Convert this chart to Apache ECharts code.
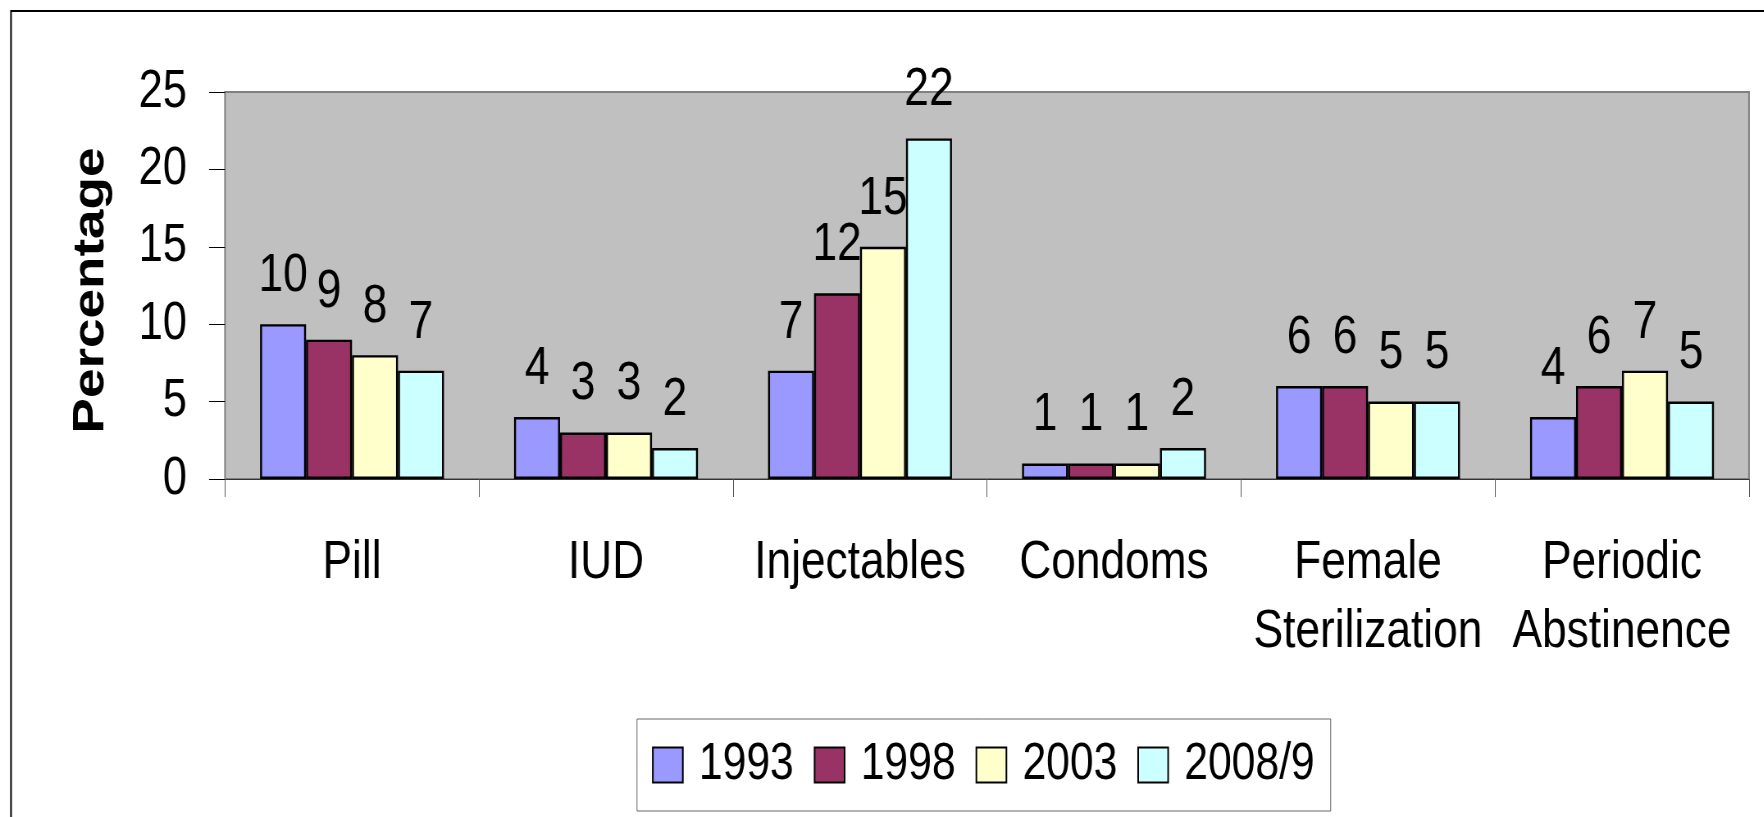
<!DOCTYPE html>
<html>
<head>
<meta charset="utf-8">
<script src="https://cdn.jsdelivr.net/npm/echarts@6/dist/echarts.min.js"></script>
<style>
	html, body {margin: 0; padding: 0; background: #fff; overflow: hidden;}
	/* the original uses a narrow font: draw wider and squeeze horizontally */
	#chart {width: 2151px; height: 817px; transform: scaleX(0.82); transform-origin: 0 0;}
</style>
</head>
<body>
<div id="chart"></div>
<script>
var categories = ['Pill', 'IUD', 'Injectables', 'Condoms', 'Female\nSterilization', 'Periodic\nAbstinence'];
var years = ['1993', '1998', '2003', '2008/9'];
var values1993 = [10, 4, 7, 1, 6, 4];
var values1998 = [9, 3, 12, 1, 6, 6];
var values2003 = [8, 3, 15, 1, 5, 7];
var values2008 = [7, 2, 22, 2, 5, 5];
var colors = ['#9999FF', '#993366', '#FFFFCC', '#CCFFFF'];

var sx = 0.82; // horizontal squeeze, screen px = chart px * sx
var font = '"Liberation Sans", Arial, sans-serif';

function px(v) {
	return v / sx;
}

function barSeries(name, data, color) {
	return {
		name: name,
		type: 'bar',
		data: data,
		barGap: '0%',
		barCategoryGap: '27.6%',
		itemStyle: {
			color: color,
			borderColor: '#000',
			borderWidth: 2.4
		},
		label: {
			show: true,
			position: 'top',
			distance: 21,
			color: '#000',
			fontFamily: font,
			fontSize: 54
		},
		emphasis: {disabled: true}
	};
}

var myChart = echarts.init(document.getElementById('chart'));
var option = {
	animation: false,
	backgroundColor: '#fff',
	graphic: [{
		type: 'rect',
		shape: {x: px(11), y: 11, width: 2400, height: 900},
		style: {fill: 'none', stroke: '#000', lineWidth: 2}
	}],
	grid: {
		left: px(225),
		right: 2151 - px(1749),
		top: 92,
		bottom: 338,
		show: true,
		backgroundColor: '#C0C0C0',
		borderColor: '#808080',
		borderWidth: 2
	},
	legend: {
		data: years,
		left: px(637),
		top: 719,
		padding: [20, px(16), 20, px(15)],
		itemWidth: px(30),
		itemHeight: 35,
		itemGap: px(20),
		icon: 'rect',
		borderColor: '#666',
		borderWidth: 1,
		textStyle: {
			color: '#000',
			fontFamily: font,
			fontSize: 52,
			padding: [0, 0, 0, px(12)]
		}
	},
	xAxis: {
		type: 'category',
		data: categories,
		axisLine: {lineStyle: {color: '#333', width: 1}},
		axisTick: {show: true, length: 18, lineStyle: {color: '#555'}},
		axisLabel: {
			color: '#000',
			fontFamily: font,
			fontSize: 54,
			lineHeight: 69,
			margin: 50,
			interval: 0
		}
	},
	yAxis: {
		type: 'value',
		min: 0,
		max: 25,
		interval: 5,
		name: 'Percentage',
		nameLocation: 'middle',
		nameGap: 136,
		nameTextStyle: {
			color: '#000',
			fontFamily: font,
			fontWeight: 'bold',
			fontSize: 53,
			padding: [0, 10, 0, 0]
		},
		axisLine: {show: false},
		axisTick: {show: true, length: px(16), lineStyle: {color: '#000'}},
		splitLine: {show: false},
		axisLabel: {
			color: '#000',
			fontFamily: font,
			fontSize: 53,
			margin: px(38)
		}
	},
	series: [
		barSeries(years[0], values1993, colors[0]),
		barSeries(years[1], values1998, colors[1]),
		barSeries(years[2], values2003, colors[2]),
		barSeries(years[3], values2008, colors[3])
	]
};
myChart.setOption(option);
</script>
</body>
</html>
